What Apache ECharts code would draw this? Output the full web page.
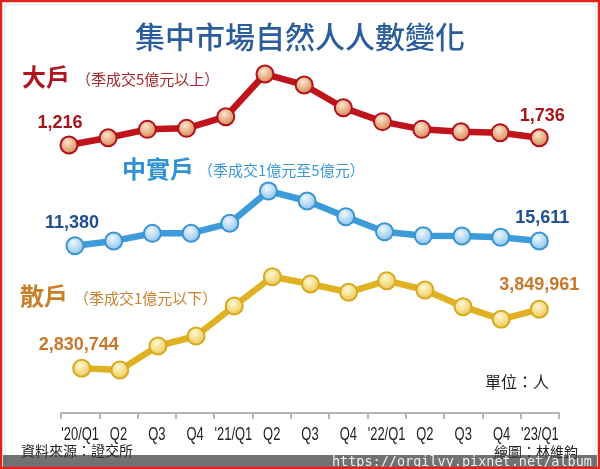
<!DOCTYPE html>
<html>
<head>
<meta charset="utf-8">
<script src="https://cdn.jsdelivr.net/npm/echarts@6/dist/echarts.min.js"></script>
<style>
html,body{margin:0;padding:0;background:#fff;}
#c{width:600px;height:469px;}
</style>
</head>
<body>
<div id="c"></div>
<script>
// ---- data ----
const categories = ["'20/Q1", "Q2", "Q3", "Q4", "'21/Q1", "Q2", "Q3", "Q4", "'22/Q1", "Q2", "Q3", "Q4", "'23/Q1"];
const bigValues = [1216, 1730, 2330, 2400, 3230, 6270, 5490, 3870, 2880, 2330, 2160, 2090, 1736];
const midValues = [11380, 15580, 22480, 22620, 31540, 60610, 51610, 37480, 23980, 20380, 20110, 18940, 15611];
const retailValues = [2830744, 2801000, 3216000, 3389000, 3907000, 4413000, 4287000, 4144000, 4344000, 4183000, 3895000, 3677000, 3849961];
const seriesNames = ["大戶", "中實戶", "散戶"];
const seriesNotes = ["（季成交5億元以上）", "（季成交1億元至5億元）", "（季成交1億元以下）"];

const chart = echarts.init(document.getElementById('c'), null, {renderer: 'canvas'});
const numFont = "'Liberation Sans', Arial, sans-serif";
const cjk = "'Noto Sans CJK TC', 'Noto Sans CJK SC', sans-serif";
const fmt = v => v.toLocaleString('en-US');

function withEndLabels(values, color, offFirst, offLast) {
  const last = values.length - 1;
  return values.map((v, i) => {
    if (i === 0 || i === last) {
      return {
        value: v,
        label: {
          show: true, position: 'inside', offset: i === 0 ? offFirst : offLast,
          formatter: fmt(v), color: color, fontSize: 18, fontWeight: 'bold',
          fontFamily: numFont, align: 'center', verticalAlign: 'middle'
        }
      };
    }
    return v;
  });
}

function marker(light, dark, border) {
  return {
    color: {type: 'radial', x: 0.42, y: 0.35, r: 0.7,
      colorStops: [{offset: 0, color: light}, {offset: 1, color: dark}]},
    borderColor: border, borderWidth: 2
  };
}

const gridTop = 40, gridBottom = 55;
const option = {
  animation: false,
  backgroundColor: '#ffffff',
  title: {
    text: '集中市場自然人人數變化', left: 'center', top: 17,
    textStyle: {fontFamily: cjk, fontSize: 30, fontWeight: 500, color: '#2b5c9c'}
  },
  grid: [
    {left: 61, right: 41, top: gridTop, bottom: 56},
    {left: 69, right: 60.7, top: gridTop, bottom: gridBottom},
    {left: 75, right: 60.7, top: gridTop, bottom: gridBottom},
    {left: 81.7, right: 60.7, top: gridTop, bottom: gridBottom}
  ],
  xAxis: [
    {type: 'category', gridIndex: 0, data: categories, boundaryGap: true,
      axisLine: {show: true, lineStyle: {color: '#b4b4b4', width: 2}},
      axisTick: {show: true, interval: 0, length: 6, lineStyle: {color: '#b4b4b4', width: 2}},
      axisLabel: {show: false}},
    {type: 'category', gridIndex: 1, data: categories, boundaryGap: false, show: false},
    {type: 'category', gridIndex: 2, data: categories, boundaryGap: false, show: false},
    {type: 'category', gridIndex: 3, data: categories, boundaryGap: false, show: false}
  ],
  yAxis: [
    {type: 'value', gridIndex: 0, show: false},
    {type: 'value', gridIndex: 1, show: false, min: -17937, max: 8692},
    {type: 'value', gridIndex: 2, show: false, min: -140124, max: 196551},
    {type: 'value', gridIndex: 3, show: false, min: 2041276, max: 8502127}
  ],
  series: [
    {name: seriesNames[0], type: 'line', xAxisIndex: 1, yAxisIndex: 1,
      data: withEndLabels(bigValues, '#a3161c', [-9, -22], [3, -22]),
      symbol: 'circle', symbolSize: 17,
      lineStyle: {color: '#c0141d', width: 6.5},
      itemStyle: marker('#fde6cc', '#d37a46', '#b3101a')},
    {name: seriesNames[1], type: 'line', xAxisIndex: 2, yAxisIndex: 2,
      data: withEndLabels(midValues, '#1f4f8c', [-3, -23], [3, -23]),
      symbol: 'circle', symbolSize: 17,
      lineStyle: {color: '#3d9bd9', width: 6.5},
      itemStyle: marker('#eef7fd', '#80bfe9', '#3a93d3')},
    {name: seriesNames[2], type: 'line', xAxisIndex: 3, yAxisIndex: 3,
      data: withEndLabels(retailValues, '#c8782a', [-3, -23], [0, -24]),
      symbol: 'circle', symbolSize: 17,
      lineStyle: {color: '#e0b223', width: 6.5},
      itemStyle: marker('#fff8d6', '#eac23f', '#d8a91e')}
  ],
  graphic: [
    {type: 'rect', shape: {x: 5, y: 5, width: 590, height: 459}, style: {fill: 'none', stroke: '#d3e8f5', lineWidth: 1}, z: 1},
    // series headings
    {type: 'text', left: 22, top: 65, style: {text: seriesNames[0], fontFamily: cjk, fontSize: 24, fontWeight: 'bold', fill: '#b0141c'}},
    {type: 'text', left: 76, top: 72, style: {text: seriesNotes[0], fontFamily: cjk, fontSize: 15, fill: '#a5272a'}},
    {type: 'text', left: 122, top: 157, style: {text: seriesNames[1], fontFamily: cjk, fontSize: 24, fontWeight: 'bold', fill: '#2f92d4'}},
    {type: 'text', left: 198, top: 163, style: {text: seriesNotes[1], fontFamily: cjk, fontSize: 15, fill: '#3b9ad6'}},
    {type: 'text', left: 20, top: 284, style: {text: seriesNames[2], fontFamily: cjk, fontSize: 24, fontWeight: 'bold', fill: '#c97f26'}},
    {type: 'text', left: 74, top: 291, style: {text: seriesNotes[2], fontFamily: cjk, fontSize: 15, fill: '#c9822f'}},
    {type: 'text', left: 485, top: 374, style: {text: '單位：人', fontFamily: cjk, fontSize: 16, fill: '#222'}},
    // footer
    {type: 'text', left: 21, top: 444, style: {text: '資料來源：證交所', fontFamily: cjk, fontSize: 14, fill: '#222'}},
    {type: 'text', left: 494, top: 445, style: {text: '繪圖：林維鈞', fontFamily: cjk, fontSize: 14, fill: '#222'}},
    {type: 'rect', shape: {x: 3, y: 455, width: 594, height: 14}, style: {fill: 'rgba(60,60,60,0.72)'}, z: 10},
    {type: 'text', right: 8, top: 455, z: 11, style: {text: 'https://orgilvy.pixnet.net/album', fontFamily: "'DejaVu Sans Mono', monospace", fontSize: 13.5, fill: '#eeeeee'}},
    {type: 'rect', shape: {x: 1, y: 1, width: 598, height: 467}, style: {fill: 'none', stroke: '#e3221c', lineWidth: 2.5}, z: 12}
  ]
};
chart.setOption(option);

// condensed category labels, placed at the axis band centres computed by the axis itself
const labelGraphics = categories.map((c, i) => ({
  type: 'text',
  x: chart.convertToPixel({xAxisIndex: 0}, i),
  y: 435,
  scaleX: 0.72,
  style: {text: c, textAlign: 'center', textVerticalAlign: 'middle', fontSize: 18, fontFamily: numFont, fill: '#222'}
}));
chart.setOption({graphic: option.graphic.concat(labelGraphics)});
</script>
</body>
</html>
